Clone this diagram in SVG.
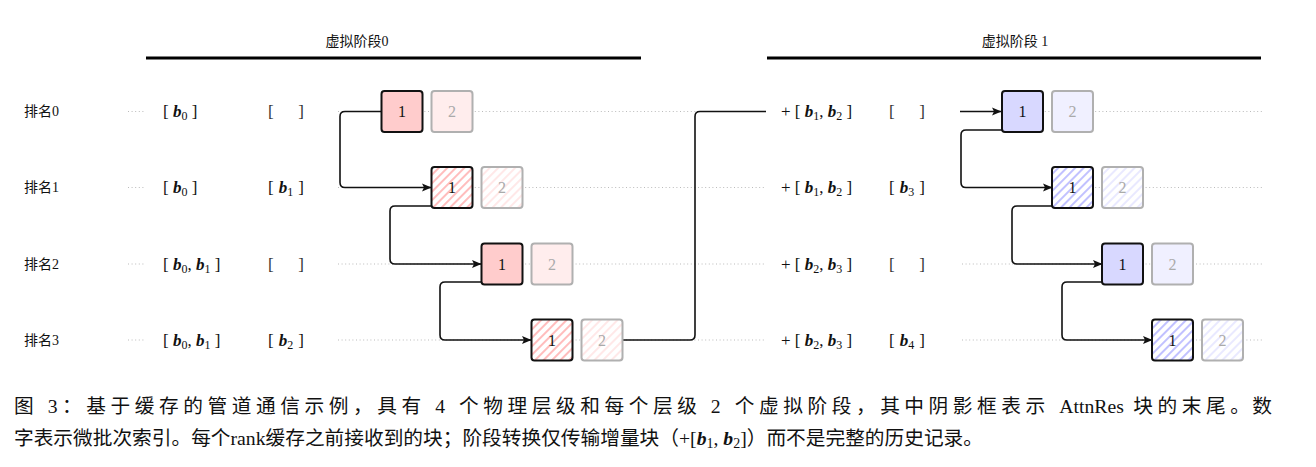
<svg xmlns="http://www.w3.org/2000/svg" width="1316" height="467" viewBox="0 0 1316 467">
<style>
text{font-family:"Liberation Serif","Noto Sans CJK SC",serif;fill:#111}
.t{font-size:14px}
.m{font-size:17px}
.br{fill:#333}
.b{font-weight:bold;font-style:italic}
.s{font-size:12px}
.n1{font-size:16px;text-anchor:middle}
.n2{font-size:16px;text-anchor:middle;fill:#aaa}
.dot{stroke:#bbb;stroke-width:1;stroke-dasharray:1 2.6;fill:none}
.hdr{stroke:#000;stroke-width:3}
.k1{stroke:#111;stroke-width:2}
.k2{stroke:#b0b0b0;stroke-width:2}
.con path{fill:none;stroke:#111;stroke-width:1.6}
.cap{font-size:19.7px}
</style>
<defs>
<marker id="ar" markerUnits="userSpaceOnUse" markerWidth="11" markerHeight="10" refX="9" refY="4.5" orient="auto">
<path d="M0,0.5 L9.5,4.5 L0,8.5 L2,4.5 z" fill="#111"/>
</marker>
<pattern id="hr" patternUnits="userSpaceOnUse" width="6" height="6" patternTransform="rotate(45)">
<rect width="6" height="6" fill="#fff"/><line x1="3" y1="0" x2="3" y2="6" stroke="#ff9a9a" stroke-width="1.3"/>
</pattern>
<pattern id="hr2" patternUnits="userSpaceOnUse" width="6" height="6" patternTransform="rotate(45)">
<rect width="6" height="6" fill="#fff"/><line x1="3" y1="0" x2="3" y2="6" stroke="#ffdcdc" stroke-width="1.3"/>
</pattern>
<pattern id="hb" patternUnits="userSpaceOnUse" width="6" height="6" patternTransform="rotate(45)">
<rect width="6" height="6" fill="#fff"/><line x1="3" y1="0" x2="3" y2="6" stroke="#a0a0ff" stroke-width="1.3"/>
</pattern>
<pattern id="hb2" patternUnits="userSpaceOnUse" width="6" height="6" patternTransform="rotate(45)">
<rect width="6" height="6" fill="#fff"/><line x1="3" y1="0" x2="3" y2="6" stroke="#dedeff" stroke-width="1.3"/>
</pattern>
</defs>
<rect width="1316" height="467" fill="#fff"/>

<g id="headers">
<text class="t" x="357" y="46" text-anchor="middle">虚拟阶段0</text>
<line class="hdr" x1="146" y1="58" x2="641" y2="58"/>
<text class="t" x="1015" y="46" text-anchor="middle">虚拟阶段 1</text>
<line class="hdr" x1="767" y1="58" x2="1261" y2="58"/>
</g>

<g id="dotted">
<path class="dot" d="M128 111.5H146M338 111.5H765M962 111.5H1262"/>
<path class="dot" d="M128 187.5H146M338 187.5H765M962 187.5H1262"/>
<path class="dot" d="M128 264H146M338 264H765M962 264H1262"/>
<path class="dot" d="M128 340H146M338 340H765M962 340H1262"/>
</g>

<g id="labels">
<text class="t" x="24" y="116">排名0</text>
<text class="t" x="24" y="192">排名1</text>
<text class="t" x="24" y="269">排名2</text>
<text class="t" x="24" y="345">排名3</text>
</g>

<g id="phase0-text">
<text class="m" x="163" y="117">[ <tspan class="b">b</tspan><tspan class="s" dy="3">0</tspan><tspan dy="-3"> ]</tspan></text>
<text class="m br" x="268" y="117">[</text><text class="m br" x="304" y="117" text-anchor="end">]</text>
<text class="m" x="163" y="193">[ <tspan class="b">b</tspan><tspan class="s" dy="3">0</tspan><tspan dy="-3"> ]</tspan></text>
<text class="m" x="268" y="193">[</text><text class="m" x="286" y="193" text-anchor="middle"><tspan class="b">b</tspan><tspan class="s" dy="3">1</tspan></text><text class="m" x="304" y="193" text-anchor="end">]</text>
<text class="m" x="163" y="270">[ <tspan class="b">b</tspan><tspan class="s" dy="3">0</tspan><tspan dy="-3">, </tspan><tspan class="b">b</tspan><tspan class="s" dy="3">1</tspan><tspan dy="-3"> ]</tspan></text>
<text class="m br" x="268" y="270">[</text><text class="m br" x="304" y="270" text-anchor="end">]</text>
<text class="m" x="163" y="346">[ <tspan class="b">b</tspan><tspan class="s" dy="3">0</tspan><tspan dy="-3">, </tspan><tspan class="b">b</tspan><tspan class="s" dy="3">1</tspan><tspan dy="-3"> ]</tspan></text>
<text class="m" x="268" y="346">[</text><text class="m" x="286" y="346" text-anchor="middle"><tspan class="b">b</tspan><tspan class="s" dy="3">2</tspan></text><text class="m" x="304" y="346" text-anchor="end">]</text>
</g>

<g id="phase1-text">
<text class="m" x="781" y="117">+ [ <tspan class="b">b</tspan><tspan class="s" dy="3">1</tspan><tspan dy="-3">, </tspan><tspan class="b">b</tspan><tspan class="s" dy="3">2</tspan><tspan dy="-3"> ]</tspan></text>
<text class="m br" x="889" y="117">[</text><text class="m br" x="925" y="117" text-anchor="end">]</text>
<text class="m" x="781" y="193">+ [ <tspan class="b">b</tspan><tspan class="s" dy="3">1</tspan><tspan dy="-3">, </tspan><tspan class="b">b</tspan><tspan class="s" dy="3">2</tspan><tspan dy="-3"> ]</tspan></text>
<text class="m" x="889" y="193">[</text><text class="m" x="907" y="193" text-anchor="middle"><tspan class="b">b</tspan><tspan class="s" dy="3">3</tspan></text><text class="m" x="925" y="193" text-anchor="end">]</text>
<text class="m" x="781" y="270">+ [ <tspan class="b">b</tspan><tspan class="s" dy="3">2</tspan><tspan dy="-3">, </tspan><tspan class="b">b</tspan><tspan class="s" dy="3">3</tspan><tspan dy="-3"> ]</tspan></text>
<text class="m br" x="889" y="270">[</text><text class="m br" x="925" y="270" text-anchor="end">]</text>
<text class="m" x="781" y="346">+ [ <tspan class="b">b</tspan><tspan class="s" dy="3">2</tspan><tspan dy="-3">, </tspan><tspan class="b">b</tspan><tspan class="s" dy="3">3</tspan><tspan dy="-3"> ]</tspan></text>
<text class="m" x="889" y="346">[</text><text class="m" x="907" y="346" text-anchor="middle"><tspan class="b">b</tspan><tspan class="s" dy="3">4</tspan></text><text class="m" x="925" y="346" text-anchor="end">]</text>
</g>

<g id="connectors" class="con">
<path d="M381 111.5H345Q340 111.5 340 116.5V182.5Q340 187.5 345 187.5H431" marker-end="url(#ar)"/>
<path d="M431 206H395Q390 206 390 211V259Q390 264 395 264H481" marker-end="url(#ar)"/>
<path d="M481 282H445Q440 282 440 287V335Q440 340 445 340H531" marker-end="url(#ar)"/>
<path d="M623 340H690Q695 340 695 335V116.5Q695 111.5 700 111.5H766"/>
<path d="M960 111.5H1001" marker-end="url(#ar)"/>
<path d="M1002 130H966Q961 130 961 135V182.5Q961 187.5 966 187.5H1052" marker-end="url(#ar)"/>
<path d="M1052 206H1017Q1012 206 1012 211V259Q1012 264 1017 264H1102" marker-end="url(#ar)"/>
<path d="M1102 282H1067Q1062 282 1062 287V335Q1062 340 1067 340H1152" marker-end="url(#ar)"/>
</g>

<g id="p0r0"><rect class="k1" x="381.5" y="91" width="41" height="41" rx="3" fill="#ffcccc"/><text class="n1" x="402" y="117">1</text>
<rect class="k2" x="431.5" y="91" width="41" height="41" rx="3" fill="#ffeded"/><text class="n2" x="452" y="117">2</text></g>
<g id="p0r1"><rect class="k1" x="431.5" y="167" width="41" height="41" rx="3" fill="url(#hr)"/><text class="n1" x="452" y="193">1</text>
<rect class="k2" x="481.5" y="167" width="41" height="41" rx="3" fill="url(#hr2)"/><text class="n2" x="502" y="193">2</text></g>
<g id="p0r2"><rect class="k1" x="481.5" y="243.5" width="41" height="41" rx="3" fill="#ffcccc"/><text class="n1" x="502" y="269.5">1</text>
<rect class="k2" x="531.5" y="243.5" width="41" height="41" rx="3" fill="#ffeded"/><text class="n2" x="552" y="269.5">2</text></g>
<g id="p0r3"><rect class="k1" x="531.5" y="319.5" width="41" height="41" rx="3" fill="url(#hr)"/><text class="n1" x="552" y="345.5">1</text>
<rect class="k2" x="581.5" y="319.5" width="41" height="41" rx="3" fill="url(#hr2)"/><text class="n2" x="602" y="345.5">2</text></g>

<g id="p1r0"><rect class="k1" x="1002" y="91" width="41" height="41" rx="3" fill="#d8d8ff"/><text class="n1" x="1022.5" y="117">1</text>
<rect class="k2" x="1052" y="91" width="41" height="41" rx="3" fill="#f0f0ff"/><text class="n2" x="1072.5" y="117">2</text></g>
<g id="p1r1"><rect class="k1" x="1052" y="167" width="41" height="41" rx="3" fill="url(#hb)"/><text class="n1" x="1072.5" y="193">1</text>
<rect class="k2" x="1102" y="167" width="41" height="41" rx="3" fill="url(#hb2)"/><text class="n2" x="1122.5" y="193">2</text></g>
<g id="p1r2"><rect class="k1" x="1102" y="243.5" width="41" height="41" rx="3" fill="#d8d8ff"/><text class="n1" x="1122.5" y="269.5">1</text>
<rect class="k2" x="1152" y="243.5" width="41" height="41" rx="3" fill="#f0f0ff"/><text class="n2" x="1172.5" y="269.5">2</text></g>
<g id="p1r3"><rect class="k1" x="1152" y="319.5" width="41" height="41" rx="3" fill="url(#hb)"/><text class="n1" x="1172.5" y="345.5">1</text>
<rect class="k2" x="1202" y="319.5" width="41" height="41" rx="3" fill="url(#hb2)"/><text class="n2" x="1222.5" y="345.5">2</text></g>

<g id="caption">
<text class="cap" x="14" y="413" letter-spacing="4.55">图 3：基于缓存的管道通信示例，具有 4 个物理层级和每个层级 2 个虚拟阶段，其中阴影框表示 <tspan letter-spacing="0">AttnRes</tspan> 块的末尾。</text>
<text class="cap" x="1272" y="413" text-anchor="end">数</text>
<text class="cap" x="14" y="445">字表示微批次索引。每个rank缓存之前接收到的块；阶段转换仅传输增量块（+[<tspan class="b">b</tspan><tspan font-size="14" dy="3">1</tspan><tspan dy="-3">, </tspan><tspan class="b">b</tspan><tspan font-size="14" dy="3">2</tspan><tspan dy="-3">]）而不是完整的历史记录。</tspan></text>
</g>
</svg>
